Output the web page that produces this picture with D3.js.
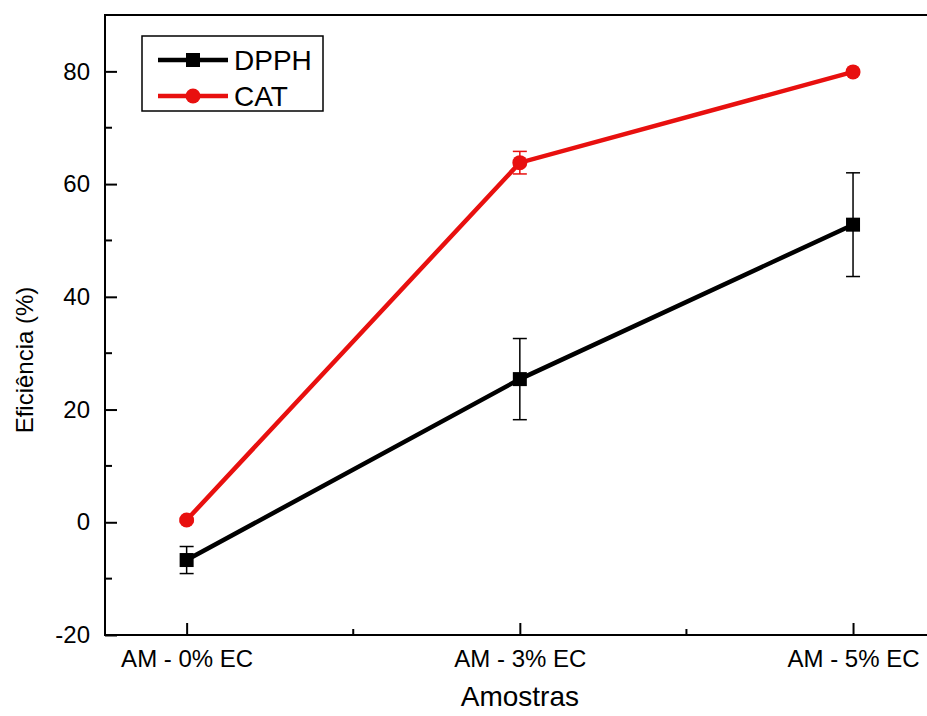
<!DOCTYPE html>
<html>
<head>
<meta charset="utf-8">
<script src="https://cdn.jsdelivr.net/npm/d3@7"></script>
<style>
  body { margin: 0; background: #fff; }
  svg { display: block; font-family: "Liberation Sans", Arial, sans-serif; }
</style>
</head>
<body>
<svg id="chart" width="927" height="716"></svg>
<script>
// samples on the x axis
var categories = ['AM - 0% EC', 'AM - 3% EC', 'AM - 5% EC'];

// series values (%)
var dpphValues = [-6.7, 25.4, 52.8];
var dpphErrors = [2.4, 7.2, 9.2];
var catValues = [0.4, 63.8, 79.9];
var catErrors = [0.3, 2.0, 0.3];

var yTicks = [-20, 0, 20, 40, 60, 80];

var FONT = '"Liberation Sans", Arial, sans-serif';
var svg = d3.select('#chart');
var margin = { left: 105, top: 15, bottom: 635 };

// x is index based so the frame can extend past the last sample
var x = d3.scaleLinear().domain([-0.245, 2.255]).range([margin.left, 938]);
var y = d3.scaleLinear().domain([-20, 90]).range([margin.bottom, margin.top]);

var series = [
  { name: 'DPPH', color: '#000000', values: dpphValues, errors: dpphErrors, marker: 'square' },
  { name: 'CAT', color: '#e8100f', values: catValues, errors: catErrors, marker: 'circle' }
];

// frame: top border
svg.append('line')
  .attr('x1', margin.left).attr('x2', 927)
  .attr('y1', margin.top).attr('y2', margin.top)
  .attr('stroke', '#000').attr('stroke-width', 2);

// y axis, ticks pointing inward
var yAxis = svg.append('g')
  .attr('transform', 'translate(' + margin.left + ',0)')
  .call(d3.axisRight(y).tickValues(yTicks).tickSize(12).tickFormat(function(d){ return String(d); }));
yAxis.select('.domain').remove();
yAxis.selectAll('.tick line').attr('stroke-width', 2);
yAxis.selectAll('.tick text')
  .attr('x', -15).attr('text-anchor', 'end')
  .attr('font-size', 24).attr('font-family', FONT);

// y minor ticks
var yMinor = d3.range(-10, 90, 20);
svg.append('g').selectAll('line').data(yMinor).join('line')
  .attr('x1', margin.left).attr('x2', margin.left + 7)
  .attr('y1', function(d){ return y(d); }).attr('y2', function(d){ return y(d); })
  .attr('stroke', '#000').attr('stroke-width', 2);

svg.append('line')
  .attr('x1', margin.left).attr('x2', margin.left)
  .attr('y1', margin.top - 1).attr('y2', margin.bottom + 1)
  .attr('stroke', '#000').attr('stroke-width', 2);

// x axis
var xAxis = svg.append('g')
  .attr('transform', 'translate(0,' + margin.bottom + ')')
  .call(d3.axisTop(x).tickValues([0, 1, 2]).tickSize(12).tickFormat(function(d){ return categories[d]; }));
xAxis.select('.domain').remove();
xAxis.selectAll('.tick line').attr('stroke-width', 2);
xAxis.selectAll('.tick text')
  .attr('y', 32).attr('dy', 0)
  .attr('font-size', 24).attr('font-family', FONT);

// x minor ticks
svg.append('g').selectAll('line').data([0.5, 1.5]).join('line')
  .attr('x1', function(d){ return x(d); }).attr('x2', function(d){ return x(d); })
  .attr('y1', margin.bottom).attr('y2', margin.bottom - 6)
  .attr('stroke', '#000').attr('stroke-width', 2);

svg.append('line')
  .attr('x1', margin.left - 1).attr('x2', 927)
  .attr('y1', margin.bottom).attr('y2', margin.bottom)
  .attr('stroke', '#000').attr('stroke-width', 2);

// axis titles
svg.append('text')
  .attr('x', x(1)).attr('y', 706)
  .attr('text-anchor', 'middle').attr('font-size', 28)
  .text('Amostras');

svg.append('text')
  .attr('transform', 'translate(33,360) rotate(-90)')
  .attr('text-anchor', 'middle').attr('font-size', 24)
  .text('Eficiência (%)');

// series
var line = d3.line()
  .x(function(d, i){ return x(i); })
  .y(function(d){ return y(d); });

series.forEach(function(s){
  var g = svg.append('g');

  g.append('path')
    .datum(s.values)
    .attr('d', line)
    .attr('fill', 'none')
    .attr('stroke', s.color)
    .attr('stroke-width', 4.5);

  // error bars
  var eb = g.selectAll('.err').data(s.values).join('g');
  eb.append('line')
    .attr('x1', function(d, i){ return x(i); }).attr('x2', function(d, i){ return x(i); })
    .attr('y1', function(d, i){ return y(d + s.errors[i]); })
    .attr('y2', function(d, i){ return y(d - s.errors[i]); })
    .attr('stroke', s.color).attr('stroke-width', 1.5);
  [1, -1].forEach(function(sign){
    eb.append('line')
      .attr('x1', function(d, i){ return x(i) - 7; }).attr('x2', function(d, i){ return x(i) + 7; })
      .attr('y1', function(d, i){ return y(d + sign * s.errors[i]); })
      .attr('y2', function(d, i){ return y(d + sign * s.errors[i]); })
      .attr('stroke', s.color).attr('stroke-width', 1.5);
  });

  // markers
  if (s.marker === 'square') {
    g.selectAll('rect').data(s.values).join('rect')
      .attr('x', function(d, i){ return x(i) - 7; })
      .attr('y', function(d){ return y(d) - 7; })
      .attr('width', 14).attr('height', 14)
      .attr('fill', s.color);
  } else {
    g.selectAll('circle').data(s.values).join('circle')
      .attr('cx', function(d, i){ return x(i); })
      .attr('cy', function(d){ return y(d); })
      .attr('r', 7.5)
      .attr('fill', s.color);
  }
});

// legend
var legend = svg.append('g');
legend.append('rect')
  .attr('x', 142).attr('y', 36).attr('width', 181).attr('height', 75)
  .attr('fill', '#fff').attr('stroke', '#000').attr('stroke-width', 1.5);

series.forEach(function(s, i){
  var ly = 60 + i * 36;
  legend.append('line')
    .attr('x1', 158).attr('x2', 228).attr('y1', ly).attr('y2', ly)
    .attr('stroke', s.color).attr('stroke-width', 4.5);
  if (s.marker === 'square') {
    legend.append('rect')
      .attr('x', 186).attr('y', ly - 7).attr('width', 14).attr('height', 14)
      .attr('fill', s.color);
  } else {
    legend.append('circle')
      .attr('cx', 193).attr('cy', ly).attr('r', 7.5)
      .attr('fill', s.color);
  }
  legend.append('text')
    .attr('x', 234).attr('y', ly + 10)
    .attr('font-size', 28)
    .text(s.name);
});
</script>
</body>
</html>
